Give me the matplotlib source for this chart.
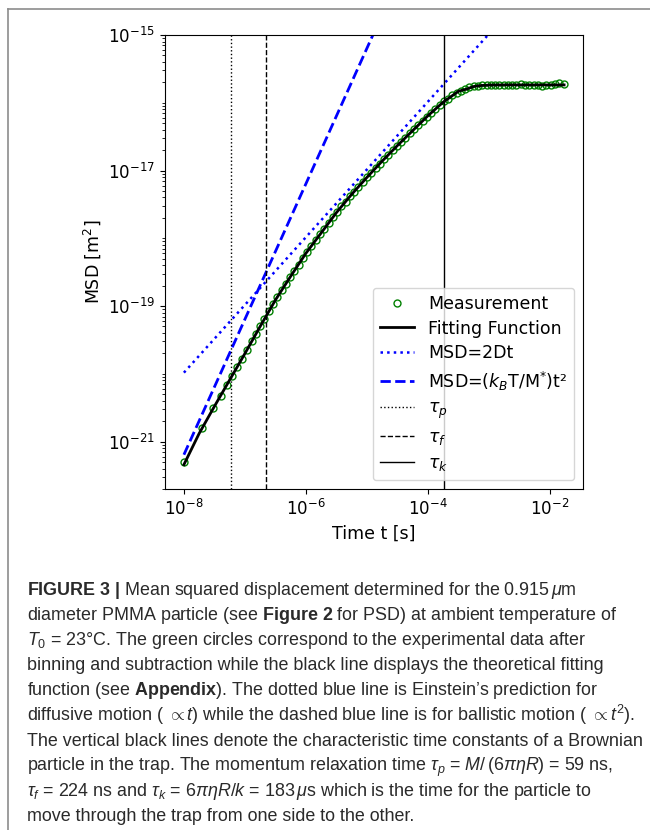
import numpy as np
import matplotlib
matplotlib.use("Agg")
import matplotlib.pyplot as plt
from matplotlib.lines import Line2D
from matplotlib.ticker import LogLocator, NullLocator, NullFormatter

meas_log_t = [-8.00, -7.70, -7.52, -7.40, -7.30, -7.21, -7.13, -7.05, -6.97, -6.89,
              -6.82, -6.75, -6.68, -6.61, -6.54, -6.47, -6.40, -6.33, -6.26, -6.19,
              -6.12, -6.05, -5.98, -5.91, -5.84, -5.77, -5.70, -5.63, -5.56, -5.49,
              -5.42, -5.35, -5.28, -5.21, -5.14, -5.07, -5.00, -4.93, -4.86, -4.79,
              -4.72, -4.65, -4.58, -4.51, -4.44, -4.37, -4.30, -4.23, -4.16, -4.09,
              -4.02, -3.95, -3.88, -3.81, -3.74, -3.67, -3.60, -3.53, -3.46, -3.39,
              -3.32, -3.25, -3.18, -3.11, -3.04, -2.97, -2.90, -2.83, -2.76, -2.69,
              -2.62, -2.55, -2.48, -2.41, -2.34, -2.27, -2.20, -2.13, -2.06, -1.99,
              -1.92, -1.85, -1.77]
meas_log_msd = [-21.30, -20.80, -20.51, -20.33, -20.17, -20.03, -19.90, -19.78, -19.65, -19.52,
                -19.41, -19.30, -19.19, -19.08, -18.97, -18.87, -18.77, -18.67, -18.57, -18.48,
                -18.39, -18.29, -18.20, -18.11, -18.03, -17.94, -17.86, -17.77, -17.69, -17.61,
                -17.53, -17.46, -17.38, -17.31, -17.24, -17.17, -17.10, -17.03, -16.96, -16.90,
                -16.83, -16.77, -16.70, -16.64, -16.58, -16.52, -16.45, -16.39, -16.33, -16.27,
                -16.21, -16.15, -16.09, -16.04, -15.98, -15.94, -15.89, -15.85, -15.82, -15.79,
                -15.77, -15.76, -15.75, -15.745, -15.74, -15.74, -15.735, -15.745, -15.74, -15.735,
                -15.745, -15.74, -15.73, -15.74, -15.745, -15.735, -15.74, -15.75, -15.745, -15.735,
                -15.73, -15.715, -15.725]

# fitting function
fit_log_t = [-8.0, -7.75, -7.5, -7.25, -7.0, -6.75, -6.5, -6.25, -6.0, -5.75, -5.5, -5.25,
             -5.0, -4.75, -4.5, -4.25, -4.0, -3.875, -3.75, -3.625, -3.5, -3.375, -3.25,
             -3.125, -3.0, -2.875, -2.75, -2.5, -2.0, -1.77]
fit_log_msd = [-21.34, -20.88, -20.48, -20.09, -19.70, -19.30, -18.91, -18.56, -18.22, -17.92,
               -17.62, -17.35, -17.10, -16.86, -16.63, -16.41, -16.19, -16.09, -15.99, -15.91,
               -15.83, -15.80, -15.76, -15.745, -15.74, -15.738, -15.737, -15.737, -15.737, -15.737]

# theory lines are straight on log-log axes: end points only
theory_t = [1e-8, 1.7e-2]
diffusive_msd = [1.04e-20, 1.77e-14]   # MSD = 2Dt
ballistic_msd = [6.4e-22, 1.85e-9]     # MSD = (kB T / M*) t^2

tau_p = 59e-9
tau_f = 224e-9
tau_k = 183e-6

caption_lines = [
    r"$\mathbf{FIGURE\ 3\ |}$ Mean squared displacement determined for the 0.915$\,\mu$m",
    r"diameter PMMA particle (see $\mathbf{Figure\ 2}$ for PSD) at ambient temperature of",
    r"$T_0$ = 23°C. The green circles correspond to the experimental data after",
    "binning and subtraction while the black line displays the theoretical fitting",
    r"function (see $\mathbf{Appendix}$). The dotted blue line is Einstein’s prediction for",
    r"diffusive motion ( $\propto t$) while the dashed blue line is for ballistic motion ( $\propto t^2$).",
    "The vertical black lines denote the characteristic time constants of a Brownian",
    r"particle in the trap. The momentum relaxation time $\tau_p$ = $M/\,(6\pi\eta R)$ = 59 ns,",
    r"$\tau_f$ = 224 ns and $\tau_k$ = $6\pi\eta R/k$ = 183$\,\mu$s which is the time for the particle to",
    "move through the trap from one side to the other.",
]

plt.rcParams['font.family'] = 'DejaVu Sans'
plt.rcParams['mathtext.fontset'] = 'dejavusans'
plt.rcParams['mathtext.rm'] = 'Liberation Sans'
plt.rcParams['mathtext.it'] = 'Liberation Sans:italic'
plt.rcParams['mathtext.bf'] = 'Liberation Sans:bold'

W, H = 650, 830
fig = plt.figure(figsize=(W / 100, H / 100), dpi=100)
ax = fig.add_axes([165 / W, 1 - 489 / H, 418 / W, 454 / H])

t_meas = 10 ** np.array(meas_log_t)
msd_meas = 10 ** np.array(meas_log_msd)
t_fit = 10 ** np.array(fit_log_t)
msd_fit = 10 ** np.array(fit_log_msd)

ax.plot(t_meas, msd_meas, 'o', color='green', mfc='none', ms=5, mew=1.0,
        label='Measurement')
ax.plot(t_fit, msd_fit, '-', color='black', lw=2, label='Fitting Function')
ax.plot(theory_t, diffusive_msd, ':', color='blue', lw=1.8, label='MSD=2Dt')
ax.plot(theory_t, ballistic_msd, '--', color='blue', lw=2,
        label='MSD=($k_B$T/M$^{*}$)t²')
ax.axvline(tau_p, color='black', ls=':', lw=1, label=r'$\tau_p$')
ax.axvline(tau_f, color='black', ls='--', lw=1, label=r'$\tau_f$')
ax.axvline(tau_k, color='black', ls='-', lw=1, label=r'$\tau_k$')

ax.set_xscale('log')
ax.set_yscale('log')
ax.set_xlim(10 ** -8.31, 10 ** -1.46)
ax.set_ylim(10 ** -21.70, 1e-15)
ax.set_xticks([1e-8, 1e-6, 1e-4, 1e-2])
ax.xaxis.set_minor_locator(NullLocator())
ax.set_yticks([1e-21, 1e-19, 1e-17, 1e-15])
ax.yaxis.set_minor_locator(LogLocator(base=10, subs=np.arange(1, 10), numticks=100))
ax.yaxis.set_minor_formatter(NullFormatter())
ax.tick_params(labelsize=12)

ax.set_xlabel('Time t [s]', fontsize=12.5)
ax.set_ylabel('MSD [m$^2$]', fontsize=12.5)
ax.legend(loc='lower right', fontsize=12.5, labelspacing=0.4)

# caption below the chart
for i, line in enumerate(caption_lines):
    y = 1 - (595 + 25.1 * i) / H
    fig.text(27 / W, y, line, fontsize=12.9, family='Liberation Sans',
             math_fontfamily='custom', va='baseline', ha='left', color='#2a2a2a')

# page frame (top and left edges)
fig.add_artist(Line2D([8 / W, 1], [1 - 9 / H, 1 - 9 / H], transform=fig.transFigure,
                      color='#8c8c8c', lw=1.2))
fig.add_artist(Line2D([8 / W, 8 / W], [0, 1 - 9 / H], transform=fig.transFigure,
                      color='#8c8c8c', lw=1.2))

fig.savefig('out.png', dpi=100)
